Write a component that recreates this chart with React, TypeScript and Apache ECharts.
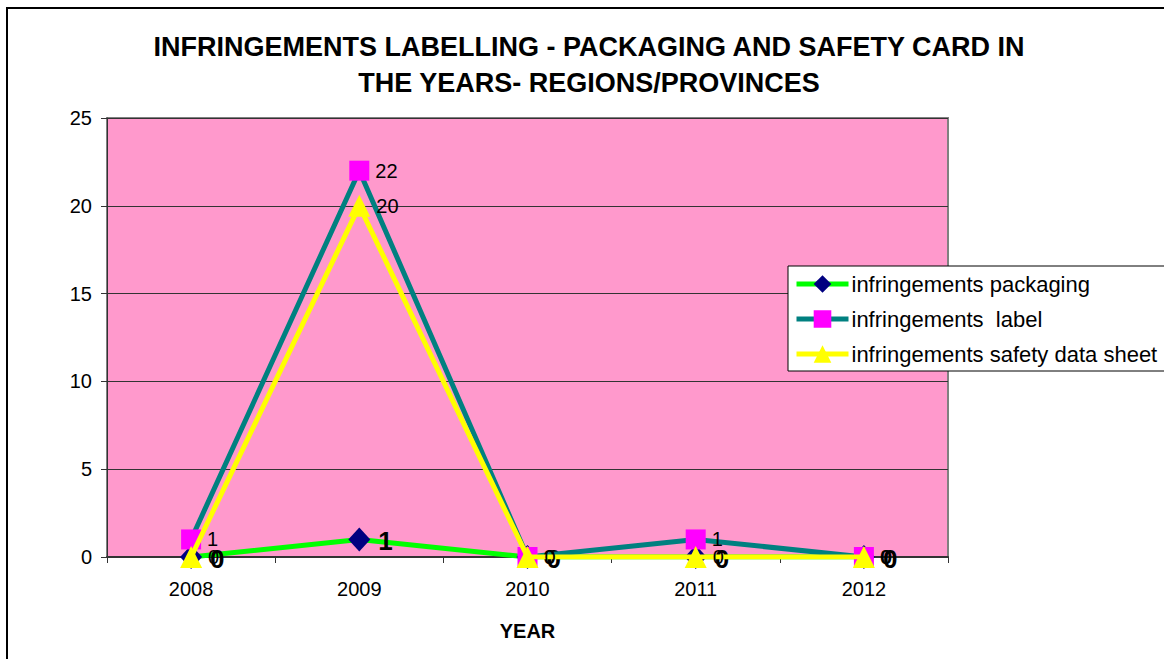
import React, { useEffect, useRef } from "react";
import * as echarts from "echarts";

const years = ["2008", "2009", "2010", "2011", "2012"];
const packaging = [0, 1, 0, 0, 0];
const labelInf = [1, 22, 0, 1, 0];
const safety = [0, 20, 0, 0, 0];
const seriesNames = [
  "infringements packaging",
  "infringements  label",
  "infringements safety data sheet",
];
const titleLines = [
  "INFRINGEMENTS LABELLING - PACKAGING AND SAFETY CARD IN",
  "THE YEARS- REGIONS/PROVINCES",
];

export default function App() {
  const ref = useRef<HTMLDivElement>(null);
  useEffect(() => {
    if (!ref.current) return;
    const chart = echarts.init(ref.current, undefined, { renderer: "svg" });
    const font = "Liberation Sans, Arial, sans-serif";
    chart.setOption({
      animation: false,
      backgroundColor: "#ffffff",
      textStyle: { fontFamily: font },
      graphic: [
        {
          type: "rect",
          shape: { x: 7, y: 8, width: 1180, height: 680 },
          style: { fill: "none", stroke: "#000", lineWidth: 2 },
          silent: true,
        },
        ...titleLines.map((t, i) => ({
          type: "text",
          x: 589,
          y: 47 + i * 36,
          style: {
            text: t,
            fill: "#000",
            font: `bold 27px ${font}`,
            textAlign: "center",
            textVerticalAlign: "middle",
          },
        })),
      ],
      grid: {
        left: 107,
        right: 216,
        top: 118,
        bottom: 102,
        show: true,
        backgroundColor: "#FF99CC",
        borderColor: "#808080",
        borderWidth: 2,
      },
      legend: {
        orient: "vertical",
        left: 788,
        top: 266,
        width: 380,
        padding: [7, 60, 6, 6],
        itemWidth: 52,
        itemHeight: 22,
        itemGap: 13,
        backgroundColor: "#fff",
        borderColor: "#000",
        borderWidth: 1,
        borderRadius: 0,
        lineStyle: { width: 5 },
        textStyle: { fontSize: 22, color: "#000", fontFamily: font, padding: [0, 0, 0, -2] },
        data: seriesNames,
      },
      xAxis: {
        type: "category",
        data: years,
        boundaryGap: true,
        name: "YEAR",
        nameLocation: "middle",
        nameGap: 64,
        nameTextStyle: { fontSize: 20, fontWeight: "bold", color: "#000", fontFamily: font },
        axisLine: { lineStyle: { color: "#333", width: 2 } },
        axisTick: { show: true, inside: false, length: 6, lineStyle: { color: "#333" } },
        axisLabel: { fontSize: 20, color: "#000", margin: 22, fontFamily: font },
        splitLine: { show: false },
      },
      yAxis: {
        type: "value",
        min: 0,
        max: 25,
        interval: 5,
        axisLine: { show: true, lineStyle: { color: "#333", width: 1 } },
        axisTick: { show: true, inside: false, length: 6, lineStyle: { color: "#333" } },
        axisLabel: { fontSize: 20, color: "#000", margin: 15, fontFamily: font },
        splitLine: { show: true, lineStyle: { color: "#333", width: 1 } },
      },
      series: [
        {
          name: seriesNames[0],
          type: "line",
          data: packaging,
          symbol: "diamond",
          symbolSize: [22, 24],
          lineStyle: { color: "#00FF00", width: 5 },
          itemStyle: { color: "#000080" },
          label: {
            show: true,
            position: "right",
            distance: 8,
            fontSize: 26,
            fontWeight: "bold",
            color: "#000",
            fontFamily: font,
            offset: [0, 2],
          },
          z: 2,
        },
        {
          name: seriesNames[1],
          type: "line",
          data: labelInf,
          symbol: "rect",
          symbolSize: 20,
          lineStyle: { color: "#008080", width: 5 },
          itemStyle: { color: "#FF00FF" },
          label: {
            show: true,
            position: "right",
            distance: 6,
            fontSize: 20,
            color: "#000",
            fontFamily: font,
          },
          z: 3,
        },
        {
          name: seriesNames[2],
          type: "line",
          data: safety,
          symbol: "triangle",
          symbolSize: [22, 22],
          lineStyle: { color: "#FFFF00", width: 5 },
          itemStyle: { color: "#FFFF00" },
          label: {
            show: true,
            position: "right",
            distance: 6,
            fontSize: 20,
            color: "#000",
            fontFamily: font,
          },
          z: 4,
        },
      ],
    });
    return () => chart.dispose();
  }, []);
  return (
    <div
      ref={ref}
      style={{ position: "fixed", left: 0, top: 0, width: 1164, height: 659 }}
    />
  );
}
